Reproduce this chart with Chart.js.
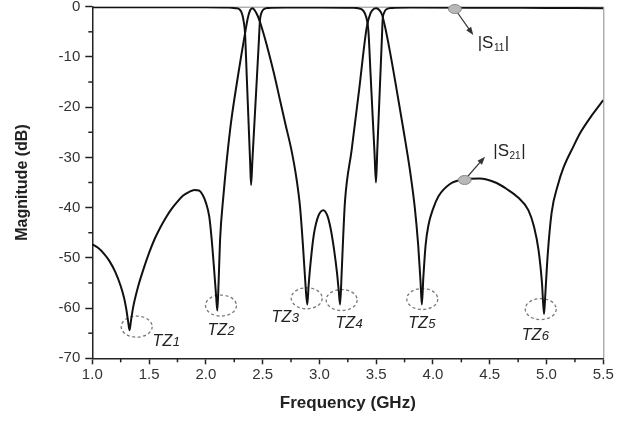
<!DOCTYPE html>
<html><head><meta charset="utf-8">
<script src="https://cdn.jsdelivr.net/npm/chart.js@4/dist/chart.umd.min.js"></script>
<style>html,body{margin:0;padding:0;background:#fff;} #c{display:block;}</style>
</head><body>
<canvas id="c" width="639" height="421"></canvas>
<script>
// ---------- data ----------
const s21Freq = [1.00,1.05,1.10,1.15,1.20,1.25,1.28,1.30,1.315,1.328,1.34,1.36,1.40,1.45,1.50,1.55,1.60,1.65,1.70,1.75,1.80,1.85,1.90,1.94,1.97,2.00,2.03,2.05,2.07,2.09,2.101,2.112,2.125,2.154,2.213,2.28,2.345,2.37,2.39,2.41,2.43,2.46,2.49,2.55,2.60,2.65,2.70,2.756,2.80,2.83,2.855,2.875,2.893,2.905,2.92,2.95,2.99,3.035,3.07,3.10,3.13,3.155,3.17,3.182,3.195,3.21,3.225,3.284,3.35,3.416,3.45,3.48,3.50,3.52,3.55,3.578,3.62,3.68,3.74,3.80,3.84,3.87,3.89,3.902,3.915,3.935,3.96,4.00,4.05,4.15,4.27,4.41,4.55,4.65,4.75,4.84,4.89,4.93,4.96,4.978,4.99,5.01,5.045,5.10,5.15,5.235,5.30,5.40,5.50];
const s21Db   = [-47.3,-48.0,-49.1,-50.6,-52.7,-55.6,-58.0,-60.3,-62.6,-64.4,-62.6,-59.8,-56.0,-52.3,-49.0,-46.2,-43.9,-41.9,-40.2,-38.8,-37.6,-36.9,-36.5,-36.6,-37.4,-39.0,-41.8,-46.0,-51.5,-57.5,-60.5,-55.0,-46.5,-37.8,-24.6,-14.2,-5.3,-2.2,-0.7,-0.3,-0.7,-2.0,-4.0,-8.8,-13.3,-18.3,-23.3,-28.8,-34.5,-40.0,-47.5,-54.5,-59.3,-55.5,-51.5,-45.5,-41.7,-40.5,-41.6,-44.3,-48.5,-53.0,-56.5,-59.3,-53.5,-45.5,-38.8,-28.5,-16.5,-4.2,-1.3,-0.4,-0.3,-0.5,-1.5,-4.0,-8.8,-16.5,-24.5,-33.0,-40.0,-47.5,-54.5,-59.3,-54.0,-47.5,-43.5,-40.3,-37.7,-35.3,-34.4,-34.2,-35.0,-36.3,-38.0,-40.5,-43.8,-48.5,-55.0,-61.2,-57.0,-49.5,-41.0,-35.5,-32.0,-27.9,-25.0,-21.6,-18.6];

const s11Freq = [1.00,1.50,2.00,2.20,2.26,2.30,2.32,2.335,2.345,2.36,2.375,2.39,2.398,2.41,2.43,2.45,2.465,2.477,2.49,2.51,2.55,2.70,3.00,3.30,3.37,3.40,3.42,3.432,3.45,3.47,3.485,3.498,3.51,3.525,3.54,3.55,3.557,3.57,3.59,3.64,3.80,4.50,5.00,5.50];
const s11Db   = [-0.1,-0.1,-0.1,-0.15,-0.3,-0.6,-1.5,-3.2,-5.3,-13.8,-22.4,-31.0,-35.5,-30.5,-22.2,-13.9,-7.6,-2.6,-1.2,-0.5,-0.25,-0.15,-0.15,-0.2,-0.5,-1.3,-2.8,-5.0,-13.2,-22.3,-29.0,-35.0,-28.4,-20.2,-11.9,-6.4,-2.6,-1.2,-0.5,-0.25,-0.15,-0.2,-0.25,-0.3];

const xTickValues = [1.0,1.5,2.0,2.5,3.0,3.5,4.0,4.5,5.0,5.5];
const yTickValues = [0,-10,-20,-30,-40,-50,-60,-70];

// transmission-zero annotations
const tzDigits   = ['1','2','3','4','5','6'];
const tzFreq     = [1.391,2.133,2.888,3.196,3.906,4.949];
const tzDb       = [-63.7,-59.5,-58.05,-58.4,-58.2,-60.2];
const tzLabelFreq= [1.649,2.133,2.697,3.26,3.90,4.90];
const tzLabelDb  = [-66.4,-64.2,-61.6,-62.8,-62.8,-65.2];

// |S| markers
const sSub       = ['11','21'];
const markFreq   = [4.193,4.279];
const markDb     = [-0.46,-34.5];
const arrowFreq  = [4.355,4.458];
const arrowDb    = [-5.63,-29.86];
const sLabelFreq = [4.394,4.531];
const sLabelDb   = [-8.28,-29.72];

// ---------- chart ----------
const toXY = (fs, ds) => fs.map((f,i)=>({x:f, y:ds[i]}));
const FONT = "'Liberation Sans', Arial, sans-serif";

const decorBack = {
  id:'decorBack',
  beforeDatasetsDraw(chart){
    const {ctx, chartArea:a, scales:{x,y}} = chart;
    ctx.save();
    ctx.strokeStyle='#8a8a8a'; ctx.lineWidth=1;
    ctx.beginPath(); ctx.moveTo(a.left,a.top+0.5); ctx.lineTo(a.right+0.5,a.top+0.5); ctx.lineTo(a.right+0.5,a.bottom); ctx.stroke();
    ctx.strokeStyle='#222'; ctx.lineWidth=1.5;
    for(let i=0;i<xTickValues.length-1;i++){
      const px = x.getPixelForValue((xTickValues[i]+xTickValues[i+1])/2);
      ctx.beginPath(); ctx.moveTo(px,a.bottom); ctx.lineTo(px,a.bottom+4); ctx.stroke();
    }
    for(let i=0;i<yTickValues.length-1;i++){
      const py = y.getPixelForValue((yTickValues[i]+yTickValues[i+1])/2);
      ctx.beginPath(); ctx.moveTo(a.left,py); ctx.lineTo(a.left-4,py); ctx.stroke();
    }
    ctx.setLineDash([3,2.5]); ctx.strokeStyle='#7a7a7a'; ctx.lineWidth=1.3;
    tzFreq.forEach((f,i)=>{
      ctx.beginPath();
      ctx.ellipse(x.getPixelForValue(f), y.getPixelForValue(tzDb[i]), 15.5, 10.5, 0, 0, Math.PI*2);
      ctx.stroke();
    });
    ctx.restore();
  }
};

const decorFront = {
  id:'decorFront',
  afterDatasetsDraw(chart){
    const {ctx, scales:{x,y}} = chart;
    ctx.save();
    ctx.fillStyle='#222'; ctx.textBaseline='alphabetic';
    tzDigits.forEach((d,i)=>{
      const cx=x.getPixelForValue(tzLabelFreq[i]), cy=y.getPixelForValue(tzLabelDb[i]);
      ctx.font = "italic 16px "+FONT; const w1 = ctx.measureText('TZ').width;
      ctx.font = "italic 13px "+FONT; const w2 = ctx.measureText(d).width;
      const left = cx-(w1+w2)/2, base = cy+6;
      ctx.font = "italic 16px "+FONT; ctx.fillText('TZ', left, base);
      ctx.font = "italic 13px "+FONT; ctx.fillText(d, left+w1+0.5, base);
    });
    sSub.forEach((s,i)=>{
      const mx=x.getPixelForValue(markFreq[i]), my=y.getPixelForValue(markDb[i]);
      const hx=x.getPixelForValue(arrowFreq[i]), hy=y.getPixelForValue(arrowDb[i]);
      const ang=Math.atan2(hy-my,hx-mx);
      ctx.strokeStyle='#333'; ctx.fillStyle='#333'; ctx.lineWidth=1.2;
      ctx.beginPath(); ctx.moveTo(mx,my); ctx.lineTo(hx-6*Math.cos(ang),hy-6*Math.sin(ang)); ctx.stroke();
      ctx.beginPath();
      ctx.moveTo(hx,hy);
      ctx.lineTo(hx-8*Math.cos(ang)+3*Math.sin(ang), hy-8*Math.sin(ang)-3*Math.cos(ang));
      ctx.lineTo(hx-8*Math.cos(ang)-3*Math.sin(ang), hy-8*Math.sin(ang)+3*Math.cos(ang));
      ctx.closePath(); ctx.fill();
      ctx.beginPath(); ctx.ellipse(mx,my,6.5,4.5,0,0,Math.PI*2);
      ctx.fillStyle='#b8b8b8'; ctx.fill(); ctx.strokeStyle='#8a8a8a'; ctx.lineWidth=1; ctx.stroke();
      const lx=x.getPixelForValue(sLabelFreq[i]), ly=y.getPixelForValue(sLabelDb[i]);
      ctx.fillStyle='#222';
      ctx.font="17px "+FONT; ctx.fillText('|S', lx, ly);
      let w=ctx.measureText('|S').width;
      ctx.font="10px "+FONT; ctx.fillText(s, lx+w+0.5, ly+3);
      w += ctx.measureText(s).width+1;
      ctx.font="17px "+FONT; ctx.fillText('|', lx+w, ly);
    });
    ctx.restore();
  }
};

new Chart(document.getElementById('c'), {
  type:'scatter',
  data:{ datasets:[
    {label:'|S11|', data:toXY(s11Freq,s11Db), showLine:true, borderColor:'#111', borderWidth:2, pointRadius:0, cubicInterpolationMode:'monotone'},
    {label:'|S21|', data:toXY(s21Freq,s21Db), showLine:true, borderColor:'#111', borderWidth:2, pointRadius:0, cubicInterpolationMode:'monotone'}
  ]},
  options:{
    responsive:false, animation:false, devicePixelRatio:1,
    layout:{padding:{left:0, top:6.7, right:35.7, bottom:0}},
    plugins:{legend:{display:false}, tooltip:{enabled:false}},
    scales:{
      x:{
        type:'linear', min:1, max:5.5,
        afterBuildTicks(s){ s.ticks = xTickValues.map(v=>({value:v})); },
        afterFit(s){ s.height = 62.7; s.paddingLeft=0; s.paddingRight=0; },
        ticks:{ callback:v=>Number(v).toFixed(1), color:'#333', font:{family:FONT, size:15}, padding:2, maxRotation:0, autoSkip:false },
        grid:{ drawOnChartArea:false, drawTicks:true, tickLength:6, tickColor:'#222', tickWidth:1.5 },
        border:{ display:true, color:'#222', width:1.5 },
        title:{ display:true, text:'Frequency (GHz)', color:'#222', font:{family:FONT, size:17, weight:'bold'}, padding:{top:0, bottom:7.4} }
      },
      y:{
        type:'linear', min:-70, max:0,
        afterBuildTicks(s){ s.ticks = yTickValues.map(v=>({value:v})); },
        afterFit(s){ s.width = 92.3; s.paddingTop=0; s.paddingBottom=0; },
        ticks:{ callback:v=>String(v), color:'#333', font:{family:FONT, size:15}, padding:5, autoSkip:false },
        grid:{ drawOnChartArea:false, drawTicks:true, tickLength:7, tickColor:'#222', tickWidth:1.5 },
        border:{ display:true, color:'#222', width:1.5 },
        title:{ display:true, text:'Magnitude (dB)', color:'#222', font:{family:FONT, size:16, weight:'bold'}, padding:{top:13.4, bottom:0} }
      }
    }
  },
  plugins:[decorBack, decorFront]
});
</script>
</body></html>
